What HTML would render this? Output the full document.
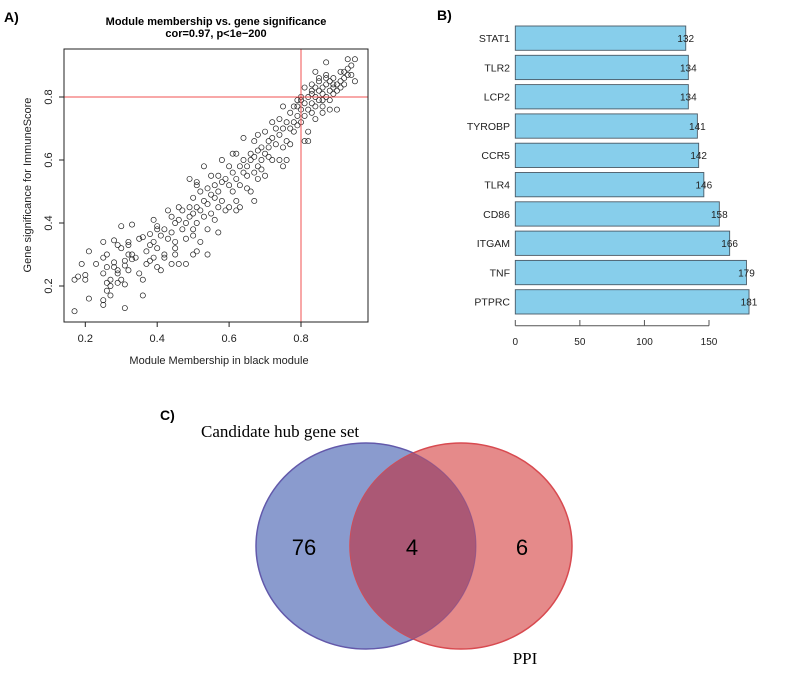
<!DOCTYPE html>
<html><head><meta charset="utf-8"><style>
body{margin:0;background:#fff;width:792px;height:676px;overflow:hidden}
svg{display:block;font-family:"Liberation Sans",Arial,sans-serif}
</style></head><body>
<svg id="s" width="792" height="676" viewBox="0 0 792 676">
<defs><clipPath id="blueClip"><ellipse cx="366" cy="546" rx="110" ry="103"/></clipPath></defs>
<text x="4" y="22" font-size="14" font-weight="bold">A)</text>
<text x="216" y="25" font-size="11" font-weight="bold" text-anchor="middle">Module membership vs. gene significance</text>
<text x="216" y="37" font-size="11" font-weight="bold" text-anchor="middle">cor=0.97, p&lt;1e−200</text>
<g id="scatter"></g>
<text x="219" y="364" font-size="11" text-anchor="middle" fill="#222">Module Membership in black module</text>
<text transform="translate(31,185) rotate(-90)" font-size="11" text-anchor="middle" fill="#222">Gene significance for ImmuneScore</text>

<text x="437" y="20" font-size="14" font-weight="bold">B)</text>
<g id="bars"></g>

<text x="160" y="420" font-size="14" font-weight="bold">C)</text>
<g>
<ellipse cx="366" cy="546" rx="110" ry="103" fill="#8a9bce" stroke="#5468c0" stroke-width="1.5"/>
<ellipse cx="461" cy="546" rx="111" ry="103" fill="#e58a8a" stroke="#d84a50" stroke-width="1.5"/>
<ellipse cx="461" cy="546" rx="111" ry="103" fill="#ab5875" clip-path="url(#blueClip)"/>
<ellipse cx="366" cy="546" rx="110" ry="103" fill="none" stroke="#7a4a90" stroke-opacity="0.6" stroke-width="1" clip-path="none"/>
<text x="201" y="437" font-size="17" font-family="Liberation Serif,serif">Candidate hub gene set</text>
<text x="525" y="664" font-size="17" font-family="Liberation Serif,serif" text-anchor="middle">PPI</text>
<text x="304" y="555" font-size="22" text-anchor="middle">76</text>
<text x="412" y="555" font-size="22" text-anchor="middle">4</text>
<text x="522" y="555" font-size="22" text-anchor="middle">6</text>
</g>
</svg>
<script>
const NS="http://www.w3.org/2000/svg";
const mmX=[0.17,0.17,0.18,0.19,0.2,0.2,0.21,0.21,0.23,0.25,0.25,0.25,0.25,0.25,0.26,0.26,0.26,0.26,0.27,0.27,0.27,0.28,0.28,0.28,0.29,0.29,0.29,0.29,0.3,0.3,0.3,0.31,0.31,0.31,0.31,0.32,0.32,0.32,0.32,0.33,0.33,0.33,0.34,0.35,0.35,0.36,0.36,0.36,0.37,0.37,0.38,0.38,0.38,0.39,0.39,0.39,0.4,0.4,0.4,0.4,0.41,0.41,0.42,0.42,0.42,0.43,0.43,0.44,0.44,0.44,0.45,0.45,0.45,0.45,0.46,0.46,0.46,0.47,0.47,0.48,0.48,0.48,0.49,0.49,0.49,0.5,0.5,0.5,0.5,0.5,0.51,0.51,0.51,0.51,0.51,0.52,0.52,0.52,0.53,0.53,0.53,0.54,0.54,0.54,0.54,0.55,0.55,0.55,0.56,0.56,0.56,0.57,0.57,0.57,0.57,0.58,0.58,0.58,0.59,0.59,0.6,0.6,0.6,0.61,0.61,0.61,0.62,0.62,0.62,0.62,0.63,0.63,0.63,0.64,0.64,0.64,0.65,0.65,0.65,0.66,0.66,0.66,0.67,0.67,0.67,0.67,0.68,0.68,0.68,0.68,0.69,0.69,0.69,0.7,0.7,0.7,0.71,0.71,0.71,0.72,0.72,0.72,0.73,0.73,0.74,0.74,0.74,0.75,0.75,0.75,0.75,0.76,0.76,0.76,0.77,0.77,0.77,0.78,0.78,0.78,0.79,0.79,0.79,0.8,0.8,0.8,0.81,0.81,0.81,0.81,0.82,0.82,0.82,0.82,0.83,0.83,0.83,0.83,0.84,0.84,0.84,0.84,0.85,0.85,0.85,0.85,0.86,0.86,0.86,0.86,0.87,0.87,0.87,0.87,0.87,0.88,0.88,0.88,0.88,0.89,0.89,0.89,0.9,0.9,0.9,0.91,0.91,0.91,0.92,0.92,0.92,0.93,0.93,0.93,0.94,0.94,0.95,0.95,0.8,0.79,0.83,0.86,0.89,0.84];
const gsY=[0.12,0.22,0.23,0.27,0.22,0.235,0.31,0.16,0.27,0.14,0.155,0.24,0.29,0.34,0.3,0.26,0.21,0.185,0.2,0.17,0.22,0.26,0.345,0.275,0.24,0.21,0.33,0.25,0.39,0.32,0.22,0.13,0.205,0.265,0.28,0.3,0.33,0.25,0.34,0.395,0.3,0.285,0.29,0.24,0.35,0.17,0.22,0.355,0.27,0.31,0.33,0.28,0.365,0.41,0.34,0.29,0.38,0.39,0.32,0.26,0.36,0.25,0.38,0.3,0.29,0.35,0.44,0.37,0.42,0.27,0.32,0.4,0.3,0.34,0.45,0.41,0.27,0.44,0.38,0.4,0.35,0.27,0.45,0.42,0.54,0.48,0.38,0.36,0.43,0.3,0.31,0.53,0.52,0.45,0.4,0.44,0.5,0.34,0.58,0.47,0.42,0.51,0.46,0.38,0.3,0.55,0.49,0.43,0.52,0.48,0.41,0.55,0.45,0.37,0.5,0.6,0.53,0.47,0.54,0.44,0.58,0.52,0.45,0.56,0.5,0.62,0.62,0.54,0.47,0.44,0.58,0.52,0.45,0.6,0.56,0.67,0.58,0.51,0.55,0.62,0.6,0.5,0.66,0.61,0.56,0.47,0.68,0.63,0.58,0.54,0.64,0.6,0.57,0.69,0.62,0.55,0.66,0.61,0.64,0.72,0.67,0.6,0.7,0.65,0.73,0.68,0.6,0.77,0.7,0.64,0.58,0.72,0.66,0.6,0.75,0.7,0.65,0.77,0.72,0.69,0.79,0.74,0.71,0.8,0.76,0.72,0.66,0.78,0.74,0.83,0.8,0.76,0.69,0.66,0.82,0.78,0.75,0.84,0.8,0.77,0.88,0.73,0.82,0.79,0.86,0.85,0.81,0.77,0.83,0.75,0.84,0.8,0.86,0.91,0.87,0.82,0.85,0.79,0.76,0.83,0.86,0.81,0.84,0.82,0.76,0.85,0.88,0.83,0.86,0.88,0.84,0.87,0.89,0.92,0.87,0.9,0.85,0.92,0.79,0.77,0.81,0.79,0.84,0.83];
const xTicks=[0.2,0.4,0.6,0.8];
const yTicks=[0.2,0.4,0.6,0.8];
const cutX=0.8, cutY=0.8;
const genes=["STAT1","TLR2","LCP2","TYROBP","CCR5","TLR4","CD86","ITGAM","TNF","PTPRC"];
const degrees=[132,134,134,141,142,146,158,166,179,181];
const barTicks=[0,50,100,150];

const sx=v=>85.3+(v-0.2)*359.5, sy=v=>286-(v-0.2)*315;
function mk(tag,attrs,parent,txt){const e=document.createElementNS(NS,tag);for(const k in attrs)e.setAttribute(k,attrs[k]);if(txt!==undefined)e.textContent=txt;parent.appendChild(e);return e;}
const sc=document.getElementById('scatter');
for(let i=0;i<mmX.length;i++){
 const c=mk('circle',{cx:sx(mmX[i]),cy:sy(gsY[i]),r:2.6,fill:'none',stroke:'#222','stroke-width':0.7},sc);
 
 
}
const vl=mk('line',{x1:sx(cutX),x2:sx(cutX),y1:49,y2:322,stroke:'#f05050','stroke-width':1},sc);


const hl=mk('line',{x1:64,x2:368,y1:sy(cutY),y2:sy(cutY),stroke:'#f05050','stroke-width':1},sc);


const box=mk('rect',{x:64,y:49,width:304,height:273,fill:'none',stroke:'#222','stroke-width':1},sc);


xTicks.forEach(t=>{
 mk('line',{x1:sx(t),x2:sx(t),y1:322,y2:327,stroke:'#222'},sc);
 const l=mk('text',{x:sx(t),y:342,'font-size':11,'text-anchor':'middle',fill:'#222'},sc,t.toFixed(1));
 
 
});
yTicks.forEach(t=>{
 mk('line',{x1:59,x2:64,y1:sy(t),y2:sy(t),stroke:'#222'},sc);
 const l=mk('text',{transform:`translate(52,${sy(t)}) rotate(-90)`,'font-size':11,'text-anchor':'middle',fill:'#222'},sc,t.toFixed(1));
 
 
});

const bg=document.getElementById('bars');
const bx=v=>515.3+v*1.2913;
genes.forEach((g,i)=>{
 const top=26+i*29.3;
 const r=mk('rect',{x:bx(0),y:top,width:bx(degrees[i])-bx(0),height:24.3,fill:'#87ceeb',stroke:'#4a5a66','stroke-width':0.9},bg);
 
 
 const l=mk('text',{x:510,y:top+16,'font-size':10.5,'text-anchor':'end',fill:'#222'},bg,g);
 
 
 const v=mk('text',{x:bx(degrees[i]),y:top+16,'font-size':10,'text-anchor':'middle',fill:'#222'},bg,degrees[i]);
 
 
});
mk('line',{x1:bx(0),x2:bx(150),y1:325.7,y2:325.7,stroke:'#555'},bg);
barTicks.forEach(t=>{
 mk('line',{x1:bx(t),x2:bx(t),y1:320,y2:325.7,stroke:'#555'},bg);
 const l=mk('text',{x:bx(t),y:345,'font-size':10,'text-anchor':'middle',fill:'#222'},bg,t);
 
 
});
</script>
</body></html>
